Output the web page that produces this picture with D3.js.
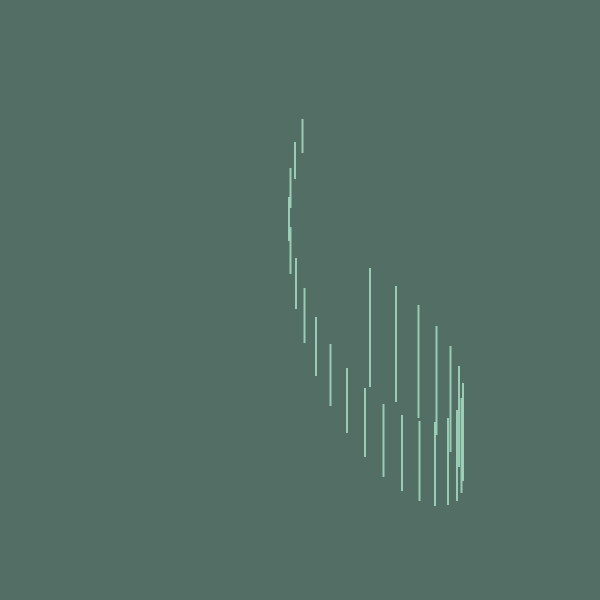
<!DOCTYPE html>
<html><head><meta charset="utf-8">
<script src="https://cdn.jsdelivr.net/npm/d3@7"></script>
<style>html,body{margin:0;padding:0;background:#526e65;}</style>
</head><body>
<script>
// Segment positions (x) and vertical extents (low/high), in chart units
const xs   = [302.5, 295, 290.5, 289, 290.5, 296, 304.5, 316, 330.5, 347, 365, 383.5, 402, 419.5, 435, 448, 457, 461.5, 463, 459, 450.5, 436.5, 418.5, 396, 370];
const lows = [119, 142, 168, 197, 227, 258, 288, 317, 344, 368, 388, 404, 415, 421, 422, 418, 410, 398, 383, 366, 346, 326, 305, 286, 268];
const highs= [153, 179, 208, 241, 274, 309, 343, 376, 406, 433, 457, 477, 491, 501, 506, 505, 501, 493, 481, 467, 452, 435, 418, 402, 387];

const W = 600, H = 600;
const x = d3.scaleLinear().domain([0, 600]).range([0, W]);
const y = d3.scaleLinear().domain([0, 600]).range([0, H]);

const svg = d3.select("body").append("svg").attr("width", W).attr("height", H);
svg.append("rect").attr("width", W).attr("height", H).attr("fill", "#526e65");

const data = xs.map((v, i) => ({x: v, lo: lows[i], hi: highs[i]}));
svg.append("g").selectAll("line").data(data).join("line")
  .attr("x1", d => x(d.x)).attr("x2", d => x(d.x))
  .attr("y1", d => y(d.lo)).attr("y2", d => y(d.hi))
  .attr("stroke", "#a6dcc3").attr("stroke-opacity", 0.85)
  .attr("stroke-width", 2);
</script>
</body></html>
